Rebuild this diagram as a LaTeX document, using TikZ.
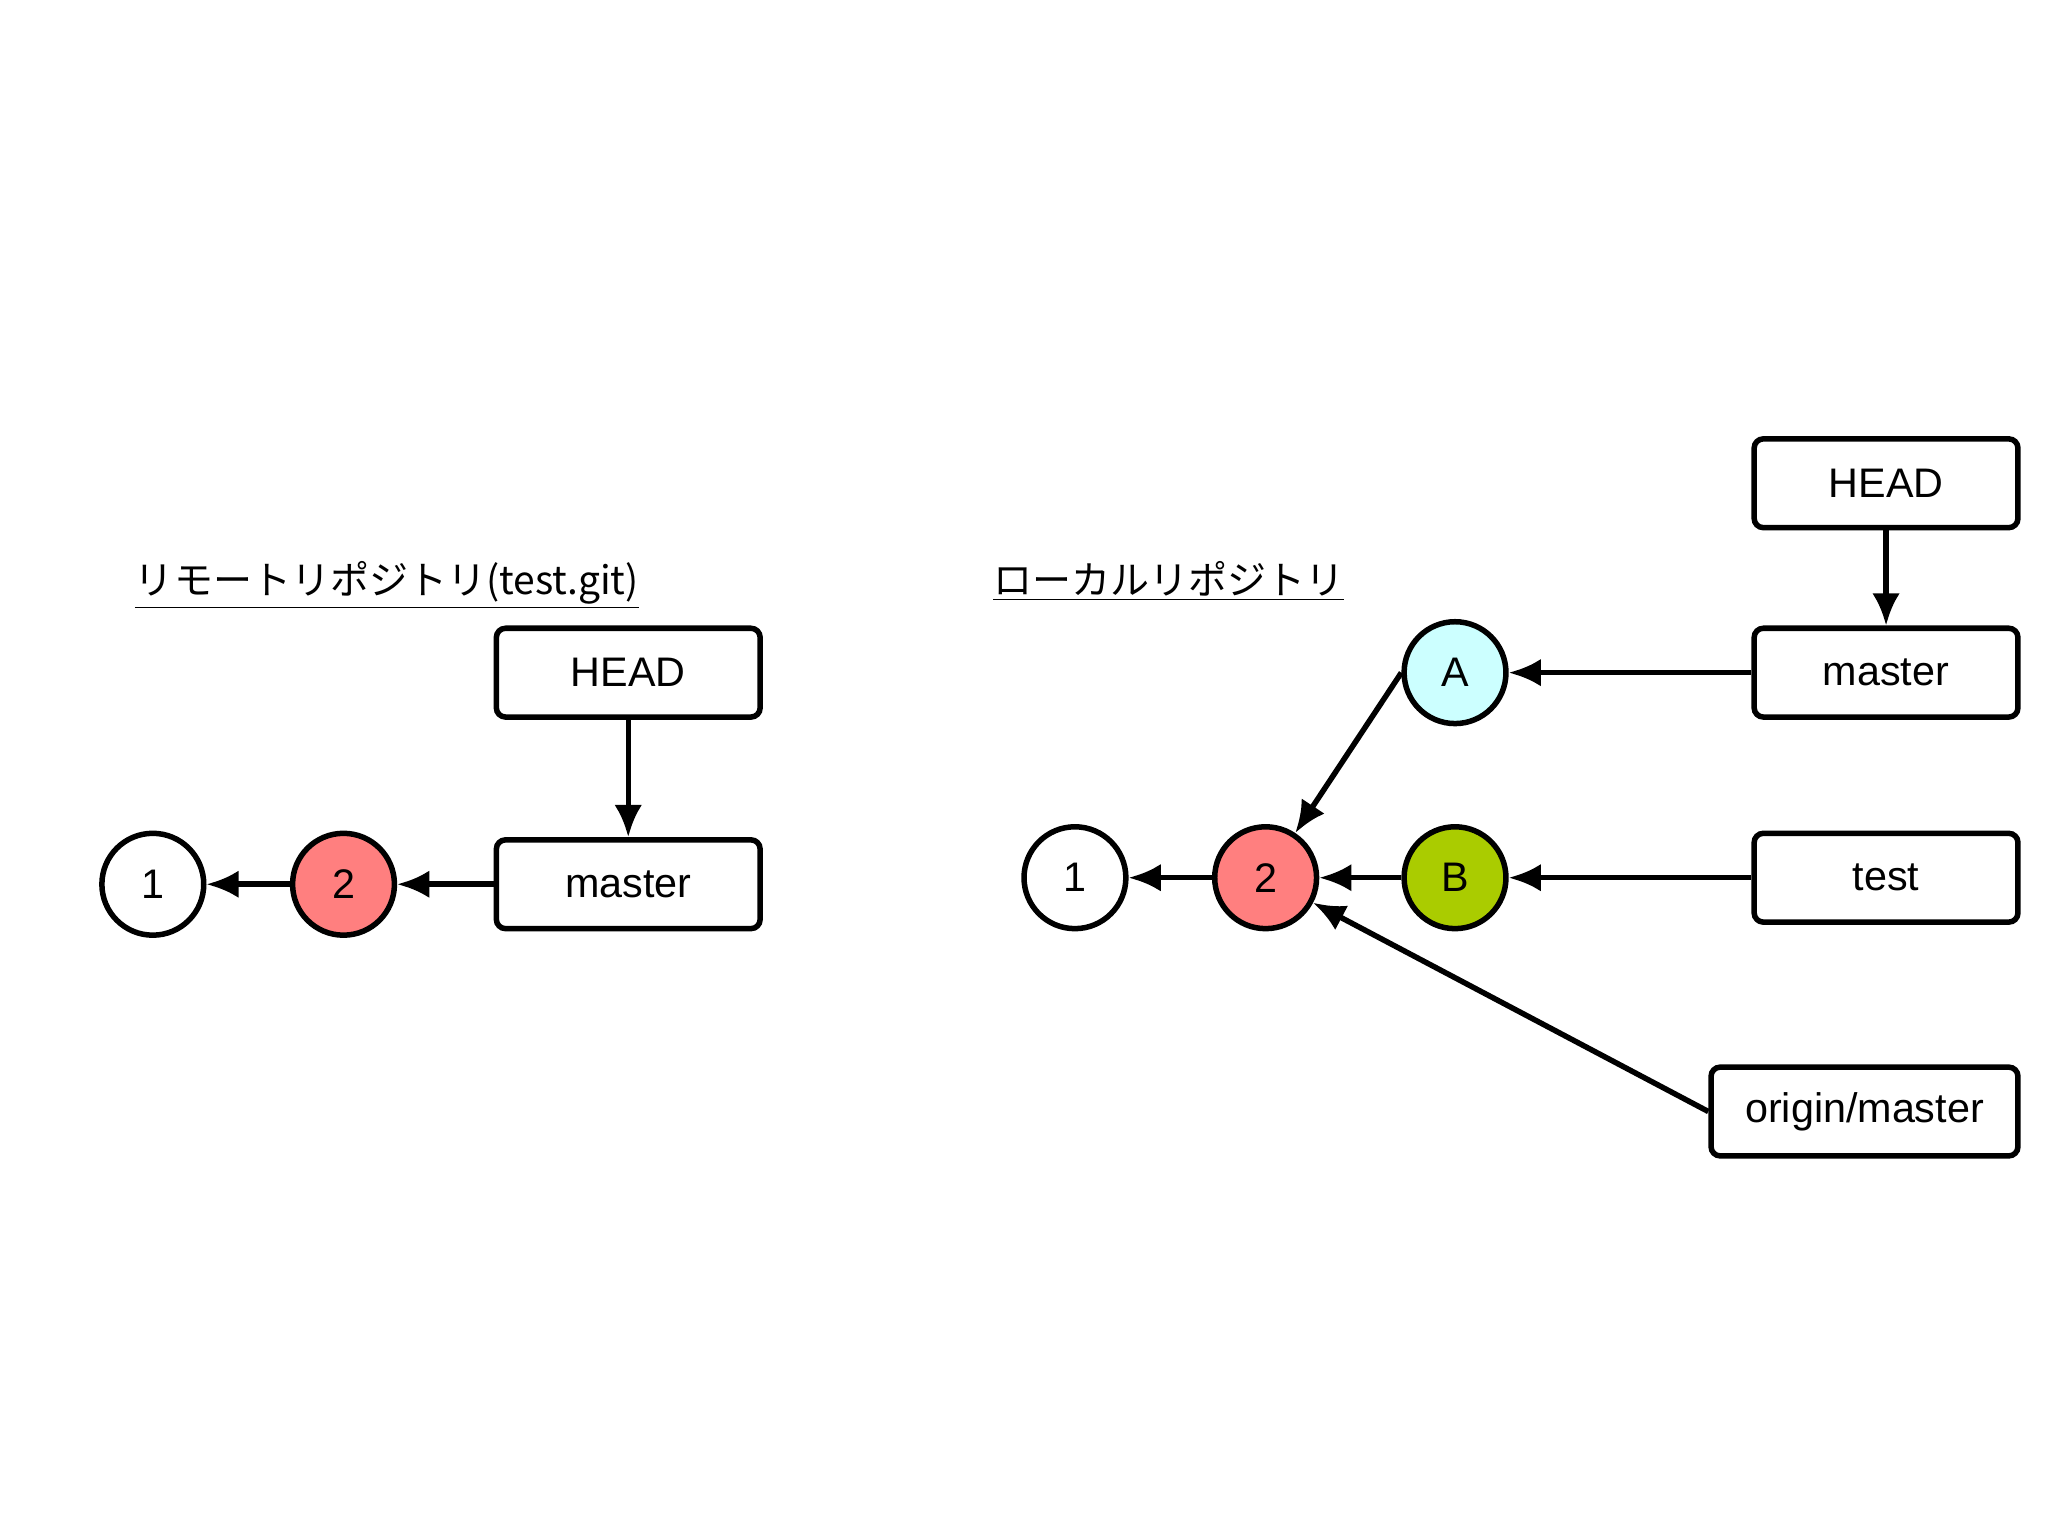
\documentclass[tikz,border=0pt]{standalone}
\usepackage{fontspec}
\setmainfont{Liberation Sans}
\newfontfamily\cjk{Noto Sans CJK JP}
\usetikzlibrary{arrows.meta}
\begin{document}
\begin{tikzpicture}[x=0.02cm,y=-0.02cm,
  box/.style={draw,line width=2.4pt,rounded corners=4pt,minimum width=4.04cm,minimum height=1.36cm,font=\fontsize{18}{20}\selectfont,inner sep=0pt},
  cmt/.style={draw,circle,line width=2.4pt,minimum size=1.56cm,inner sep=0pt,font=\fontsize{18}{20}\selectfont},
  arr/.style={line width=2.4pt,-{Latex[length=14pt,width=12pt]}},
  ttl/.style={font=\cjk\fontsize{17}{20}\selectfont,anchor=base west,inner sep=0pt}]
\useasboundingbox (0,0) rectangle (1568,1175);
\node[ttl] (t1) at (103,455) {\underline{リモートリポジトリ(test.git)}};
\node[ttl] (t2) at (760,455) {\underline{ローカルリポジトリ}};
% left
\node[box] (lhead) at (481,515) {HEAD};
\node[box] (lmaster) at (481,677) {master};
\node[cmt] (l1) at (117,677) {1};
\node[cmt,fill={rgb,255:red,255;green,127;blue,127}] (l2) at (263,677) {2};
\draw[arr] (lhead) -- (lmaster);
\draw[arr] (lmaster) -- (l2);
\draw[arr] (l2) -- (l1);
% right
\node[box] (rhead) at (1444,370) {HEAD};
\node[box] (rmaster) at (1444,515) {master};
\node[box] (rtest) at (1444,672) {test};
\node[box,minimum width=4.7cm] (rorig) at (1427.5,851) {origin/master};
\node[cmt] (r1) at (823,672) {1};
\node[cmt,fill={rgb,255:red,255;green,127;blue,127}] (r2) at (969,672) {2};
\node[cmt,fill={rgb,255:red,204;green,255;blue,255}] (rA) at (1114,515) {A};
\node[cmt,fill={rgb,255:red,170;green,204;blue,0}] (rB) at (1114,672) {B};
\draw[arr] (rhead) -- (rmaster);
\draw[arr] (rmaster) -- (rA);
\draw[arr] (rtest) -- (rB);
\draw[arr] (rB) -- (r2);
\draw[arr] (r2) -- (r1);
\draw[arr] (rA.west) -- (r2);
\draw[arr] (rorig.west) -- (r2);
\end{tikzpicture}
\end{document}
